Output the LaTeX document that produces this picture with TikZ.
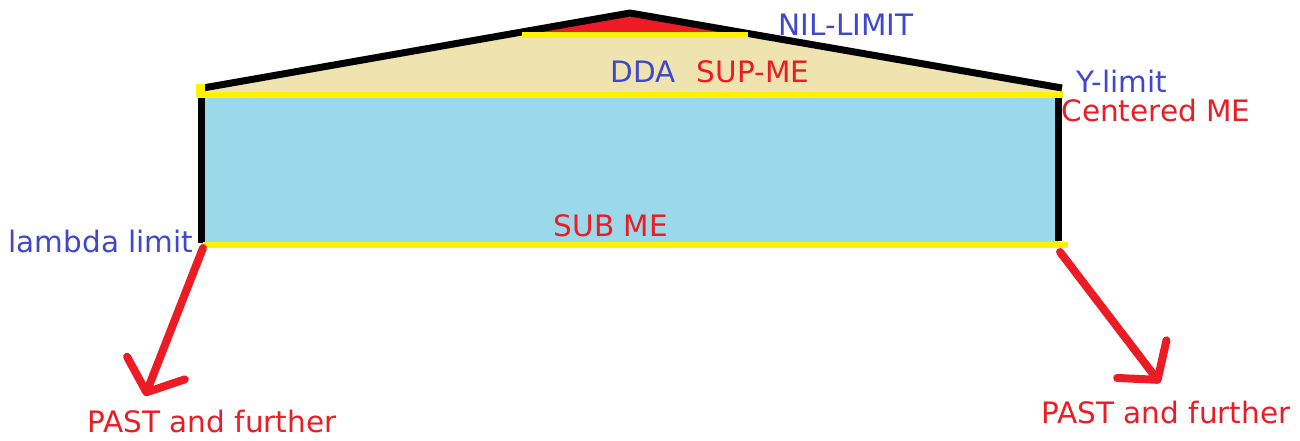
\documentclass[tikz,border=0pt]{standalone}
\usepackage{fontspec}
\setmainfont{DejaVu Sans}
\usetikzlibrary{arrows.meta}
\definecolor{pblue}{RGB}{153,217,234}
\definecolor{ptan}{RGB}{239,228,176}
\definecolor{pyellow}{RGB}{255,242,0}
\definecolor{pred}{RGB}{237,28,36}
\definecolor{pindigo}{RGB}{63,72,204}
\tikzset{
  lbl/.style={inner sep=0pt, anchor=base, font=\fontsize{29.5}{31}\selectfont},
  bluelbl/.style={lbl, text=pindigo},
  redlbl/.style={lbl, text=pred},
  wall/.style={draw=black, line width=7pt},
  beam/.style={draw=pyellow, line width=5.5pt},
  pointer/.style={draw=pred, line width=8pt, line cap=round,
    -{Straight Barb[length=26pt, width=62pt, line cap=round, line join=round]}}
}
\begin{document}
\begin{tikzpicture}[x=1pt, y=-1pt]
\useasboundingbox (0,0) rectangle (1300,440);
% corners
\coordinate (TL) at (201,95);
\coordinate (TR) at (1058,95);
\coordinate (BL) at (201,245);
\coordinate (BR) at (1058,245);
\coordinate (RL) at (203,88);
\coordinate (PK) at (630,13);
\coordinate (RR) at (1062,88);
\coordinate (YL) at (522,35);
\coordinate (YR) at (748,35);
% fills
\fill[pblue] (TL) rectangle (BR);
\fill[ptan] (203,95) -- (RL) -- (PK) -- (RR) -- (1062,95) -- cycle;
\fill[pred] (YL) -- (PK) -- (YR) -- cycle;
% roof
\draw[wall, line join=round] (RL) -- (PK) -- (RR);
\draw[beam] (YL) -- (YR);
% walls
\draw[wall] (201,98) -- (201,243);
\draw[wall] (1058,98) -- (1058,241);
% yellow beams
\draw[beam] (197,95) -- (1063,95);
\draw[beam] (203,245) -- (1068,245);
\fill[pyellow] (196,84) rectangle (205,97);
% labels
\node[bluelbl] (nil) at (846,35) {NIL-LIMIT};
\node[bluelbl] (dda) at (643,82) {DDA};
\node[redlbl] (sup) at (753,82) {SUP-ME};
\node[bluelbl] (ylim) at (1122,92) {Y-limit};
\node[redlbl] (cme) at (1156,121) {Centered ME};
\node[bluelbl] (lam) at (101,252) {lambda limit};
\node[redlbl] (sub) at (611,236) {SUB ME};
\node[redlbl] (pastL) at (212,432) {PAST and further};
\node[redlbl] (pastR) at (1166,423) {PAST and further};
% arrows
\coordinate (tipL) at (145,396);
\coordinate (tipR) at (1160,383);
\draw[pointer] (203,248) -- (tipL);
\draw[pointer] (1060,252) -- (tipR);
\end{tikzpicture}
\end{document}
